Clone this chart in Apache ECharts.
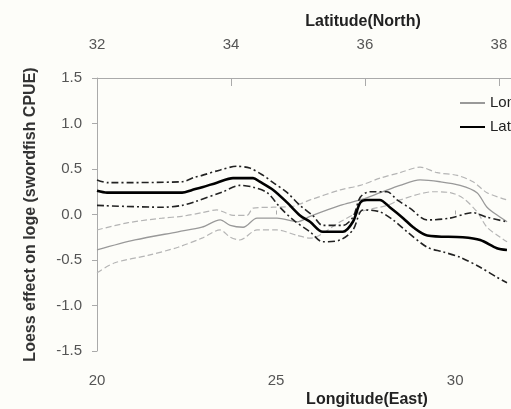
<!DOCTYPE html>
<html><head><meta charset="utf-8">
<script src="https://cdn.jsdelivr.net/npm/echarts@6/dist/echarts.min.js"></script>
<style>html,body{margin:0;padding:0;background:#fdfdf9}#c{width:511px;height:409px}</style>
</head><body><div id="c"></div>
<script>
// Longitude (East) effect – gray, bottom axis
var lonUpperX = [20.0, 20.87, 21.82, 22.37, 22.93, 23.35, 23.52, 23.80, 24.19, 24.36, 24.92, 25.47, 25.95, 26.79, 27.35, 27.91, 28.46, 29.02, 29.50, 30.06, 30.50, 30.89, 31.45];
var lonUpperY = [-0.17, -0.09, -0.04, -0.02, 0.02, 0.05, 0.03, -0.01, -0.01, 0.07, 0.08, 0.09, 0.16, 0.27, 0.32, 0.40, 0.46, 0.52, 0.46, 0.43, 0.36, 0.24, 0.16];
var lonMidX = [20.0, 21.06, 22.26, 22.93, 23.44, 23.72, 24.08, 24.47, 25.03, 25.59, 25.95, 26.79, 27.35, 27.91, 28.46, 29.02, 29.58, 30.14, 30.61, 30.89, 31.26, 31.45];
var lonMidY = [-0.39, -0.28, -0.19, -0.14, -0.06, -0.12, -0.14, -0.04, -0.04, -0.08, -0.02, 0.10, 0.16, 0.24, 0.32, 0.38, 0.36, 0.32, 0.24, 0.08, -0.03, -0.08];
var lonLowerX = [20.0, 20.50, 21.42, 22.26, 22.93, 23.44, 23.72, 23.99, 24.47, 25.03, 25.59, 25.95, 26.79, 27.35, 28.10, 28.46, 29.39, 29.86, 30.22, 30.61, 30.89, 31.26, 31.45];
var lonLowerY = [-0.64, -0.53, -0.45, -0.36, -0.26, -0.17, -0.25, -0.28, -0.17, -0.17, -0.23, -0.26, -0.08, 0.03, 0.10, 0.16, 0.25, 0.24, 0.18, 0.03, -0.14, -0.25, -0.30];

// Latitude (North) effect – black, top axis
var latUpperX = [32.0, 32.16, 33.27, 33.46, 33.57, 33.84, 34.09, 34.28, 34.48, 34.63, 34.84, 35.03, 35.22, 35.37, 35.67, 35.82, 35.93, 36.07, 36.33, 36.48, 36.67, 36.93, 37.27, 37.61, 37.82, 38.12];
var latUpperY = [0.38, 0.35, 0.36, 0.41, 0.43, 0.49, 0.53, 0.51, 0.43, 0.35, 0.24, 0.10, -0.01, -0.12, -0.12, -0.03, 0.19, 0.25, 0.25, 0.16, 0.07, -0.06, -0.04, 0.02, -0.03, -0.08];
var latMidX = [32.0, 32.15, 33.27, 33.42, 33.57, 33.79, 34.03, 34.33, 34.43, 34.63, 34.84, 35.03, 35.18, 35.37, 35.67, 35.82, 35.93, 36.03, 36.22, 36.37, 36.57, 36.72, 36.93, 37.46, 37.72, 37.97, 38.12];
var latMidY = [0.26, 0.24, 0.24, 0.27, 0.30, 0.35, 0.40, 0.40, 0.36, 0.27, 0.13, -0.01, -0.08, -0.19, -0.19, -0.08, 0.13, 0.16, 0.16, 0.08, -0.04, -0.14, -0.23, -0.25, -0.28, -0.37, -0.39];
var latLowerX = [32.0, 32.97, 33.27, 33.46, 33.88, 34.13, 34.33, 34.54, 34.73, 34.93, 35.18, 35.37, 35.63, 35.82, 35.97, 36.22, 36.42, 36.63, 36.93, 37.16, 37.42, 37.72, 37.97, 38.12];
var latLowerY = [0.10, 0.08, 0.10, 0.14, 0.25, 0.32, 0.30, 0.24, 0.08, -0.06, -0.19, -0.30, -0.28, -0.17, 0.05, 0.03, -0.06, -0.19, -0.36, -0.41, -0.47, -0.58, -0.69, -0.75];

var yTicks = [-1.5, -1.0, -0.5, 0.0, 0.5, 1.0, 1.5];
var legendNames = ['Longitude', 'Latitude'];

function pairs(xs, ys) { return xs.map(function (x, i) { return [x, ys[i]]; }); }

var labelFont = { fontFamily: 'Liberation Sans, Arial, sans-serif', fontSize: 15, color: '#555' };
var chart = echarts.init(document.getElementById('c'), null, { renderer: 'canvas' });
chart.setOption({
  backgroundColor: '#fdfdf9',
  animation: false,
  grid: { left: 97, top: 78, height: 273, right: 0, outerBoundsMode: 'none' },
  legend: {
    data: [
      { name: legendNames[0], icon: 'rect', itemStyle: { color: '#999' } },
      { name: legendNames[1], icon: 'rect', itemStyle: { color: '#000' } }
    ],
    orient: 'vertical', left: 455, top: 90,
    itemWidth: 25, itemHeight: 2, itemGap: 8,
    textStyle: { fontFamily: 'Liberation Sans, Arial, sans-serif', fontSize: 15, lineHeight: 16, color: '#222' }
  },
  graphic: [
    { type: 'text', x: 363, y: 14, style: { text: 'Latitude(North)', textAlign: 'center', textVerticalAlign: 'top', font: 'bold 16px Liberation Sans, Arial, sans-serif', fill: '#222' } },
    { type: 'text', x: 367, y: 392, style: { text: 'Longitude(East)', textAlign: 'center', textVerticalAlign: 'top', font: 'bold 16px Liberation Sans, Arial, sans-serif', fill: '#222' } }
  ],
  xAxis: [
    { type: 'value', position: 'bottom', min: 20, max: 31.56, interval: 5,
      axisLine: { show: false }, splitLine: { show: false },
      axisTick: { show: true, inside: true, length: 4, lineStyle: { color: '#aaa' } },
      axisLabel: Object.assign({ margin: 22, showMaxLabel: false }, labelFont) },
    { type: 'value', position: 'top', min: 32, max: 38.18, interval: 2,
      axisLine: { show: true, lineStyle: { color: '#aaa', width: 1 } }, splitLine: { show: false },
      axisTick: { show: true, inside: true, length: 8, lineStyle: { color: '#aaa' } },
      axisLabel: Object.assign({ margin: 26, showMaxLabel: false }, labelFont) }
  ],
  yAxis: {
    type: 'value', min: -1.5, max: 1.5, interval: 0.5,
    name: 'Loess effect on loge (swordfish CPUE)', nameLocation: 'middle', nameGap: 58, nameRotate: 90,
    nameTextStyle: { fontFamily: 'Liberation Sans, Arial, sans-serif', fontSize: 16, fontWeight: 'bold', color: '#333' },
    axisLine: { show: true, lineStyle: { color: '#aaa', width: 1 } }, splitLine: { show: false },
    axisTick: { show: true, inside: false, length: 5, lineStyle: { color: '#aaa' } },
    axisLabel: Object.assign({ margin: 15, formatter: function (v) { return v.toFixed(1); } }, labelFont)
  },
  series: [
    { name: 'Longitude upper', type: 'line', xAxisIndex: 0, data: pairs(lonUpperX, lonUpperY), smooth: 0.3, symbol: 'none',
      lineStyle: { color: '#b5b5b5', width: 1.2, type: [6, 3] } },
    { name: 'Longitude lower', type: 'line', xAxisIndex: 0, data: pairs(lonLowerX, lonLowerY), smooth: 0.3, symbol: 'none',
      lineStyle: { color: '#b5b5b5', width: 1.2, type: [6, 3] } },
    { name: 'Longitude', type: 'line', xAxisIndex: 0, data: pairs(lonMidX, lonMidY), smooth: 0.3, symbol: 'none',
      lineStyle: { color: '#999', width: 1.3 }, itemStyle: { color: '#999' } },
    { name: 'Latitude upper', type: 'line', xAxisIndex: 1, data: pairs(latUpperX, latUpperY), smooth: 0.3, symbol: 'none',
      lineStyle: { color: '#222', width: 1.6, type: [7, 3, 2, 3] } },
    { name: 'Latitude lower', type: 'line', xAxisIndex: 1, data: pairs(latLowerX, latLowerY), smooth: 0.3, symbol: 'none',
      lineStyle: { color: '#222', width: 1.6, type: [7, 3, 2, 3] } },
    { name: 'Latitude', type: 'line', xAxisIndex: 1, data: pairs(latMidX, latMidY), smooth: 0.3, symbol: 'none',
      lineStyle: { color: '#000', width: 2.6 }, itemStyle: { color: '#000' } }
  ]
});
</script>
</body></html>
